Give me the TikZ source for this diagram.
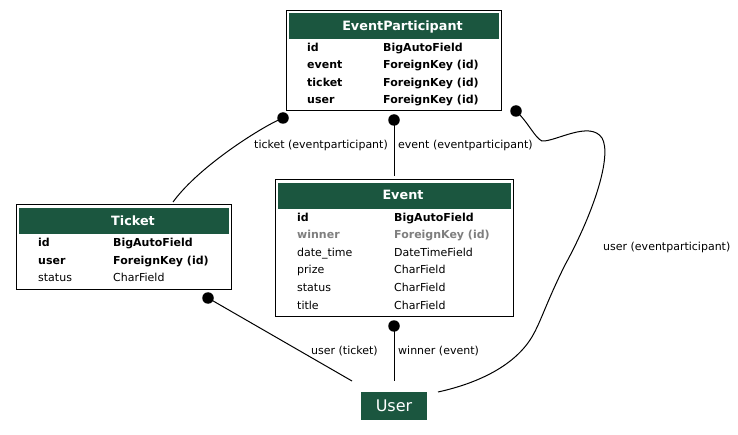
\documentclass[tikz,border=0pt]{standalone}
\usepackage{fontspec}
\setmainfont{DejaVu Sans}
\definecolor{hdr}{HTML}{1B563F}
\definecolor{fkgray}{HTML}{7F7F7F}
\tikzset{
  tbl/.style={draw=black, line width=1pt, fill=white, inner sep=0pt},
  hdrbox/.style={fill=hdr, draw=none, inner sep=0pt},
  hdrtext/.style={text=white, inner sep=0pt, anchor=base, font=\fontsize{12.8}{14}\selectfont\bfseries},
  fld/.style={inner sep=0pt, anchor=base west, font=\fontsize{11}{13}\selectfont},
  bfld/.style={fld, font=\fontsize{11}{13}\selectfont\bfseries},
  gfld/.style={bfld, text=fkgray},
  lbl/.style={inner sep=0pt, anchor=base west, font=\fontsize{11}{13}\selectfont},
  usernode/.style={fill=hdr, text=white, inner sep=0pt, minimum width=66pt, minimum height=28pt, font=\fontsize{16}{18}\selectfont},
  dotnode/.style={circle, fill=black, inner sep=0pt, minimum size=11.5pt},
  conn/.style={draw=black, line width=1pt},
}
\begin{document}
\begin{tikzpicture}[x=1pt,y=-1pt]
\useasboundingbox (0,0) rectangle (738,435);
% EventParticipant
\node[tbl, minimum width=215pt, minimum height=100pt] (ep) at (393.5,60.5) {};
\node[hdrbox, minimum width=210pt, minimum height=25.5pt] (ephdr) at (393.5,26) {};
\node[hdrtext] (eptitle) at (402.5,30.5) {EventParticipant};
\node[bfld] (ep1a) at (307,51.5) {id};
\node[bfld] (ep1b) at (383,51.5) {BigAutoField};
\node[bfld] (ep2a) at (307,69) {event};
\node[bfld] (ep2b) at (383,69) {ForeignKey (id)};
\node[bfld] (ep3a) at (307,86.5) {ticket};
\node[bfld] (ep3b) at (383,86.5) {ForeignKey (id)};
\node[bfld] (ep4a) at (307,104) {user};
\node[bfld] (ep4b) at (383,104) {ForeignKey (id)};
% Ticket
\node[tbl, minimum width=215pt, minimum height=85pt] (ticket) at (123.5,247.5) {};
\node[hdrbox, minimum width=210pt, minimum height=26pt] (thdr) at (123.5,221.5) {};
\node[hdrtext] (ttitle) at (133,226) {Ticket};
\node[bfld] (t1a) at (38,247) {id};
\node[bfld] (t1b) at (113,247) {BigAutoField};
\node[bfld] (t2a) at (38,264.5) {user};
\node[bfld] (t2b) at (113,264.5) {ForeignKey (id)};
\node[fld] (t3a) at (38,282) {status};
\node[fld] (t3b) at (113,282) {CharField};
% Event
\node[tbl, minimum width=238pt, minimum height=136pt] (event) at (394,248) {};
\node[hdrbox, minimum width=233pt, minimum height=26pt] (ehdr) at (394,196.5) {};
\node[hdrtext] (etitle) at (403,199.5) {Event};
\node[bfld] (e1a) at (297,221.5) {id};
\node[gfld] (e2a) at (297,239) {winner};
\node[bfld] (e1b) at (394,221.5) {BigAutoField};
\node[gfld] (e2b) at (394,239) {ForeignKey (id)};
\node[fld] (e3a) at (297,256.5) {date\_time};
\node[fld] (e3b) at (394,256.5) {DateTimeField};
\node[fld] (e4a) at (297,274) {prize};
\node[fld] (e4b) at (394,274) {CharField};
\node[fld] (e5a) at (297,291.5) {status};
\node[fld] (e5b) at (394,291.5) {CharField};
\node[fld] (e6a) at (297,309) {title};
\node[fld] (e6b) at (394,309) {CharField};
% User
\node[usernode] (user) at (394,406) {User};
% end points
\node[dotnode] (d1) at (283,118) {};
\node[dotnode] (d2) at (394,120) {};
\node[dotnode] (d3) at (516,111) {};
\node[dotnode] (d4) at (208,298) {};
\node[dotnode] (d5) at (394,326) {};
\coordinate (c1) at (173,202);
\coordinate (c2) at (394,176);
\coordinate (c3) at (438,392);
\coordinate (c4) at (352,381);
\coordinate (c5) at (394,381);
% connectors
\draw[conn] (d1.center) .. controls (265,125) and (200,165) .. (c1);
\draw[conn] (d2.center) -- (c2);
\draw[conn] (d3.center) .. controls (528,122) and (535,138) .. (542,141)
  .. controls (555,142) and (590,120) .. (602,138)
  .. controls (612,155) and (595,210) .. (565,265)
  .. controls (545,305) and (540,325) .. (530,340)
  .. controls (510,370) and (470,385) .. (c3);
\draw[conn] (d4.center) -- (c4);
\draw[conn] (d5.center) -- (c5);
% labels
\node[lbl] (l1) at (254,149) {ticket (eventparticipant)};
\node[lbl] (l2) at (398,149) {event (eventparticipant)};
\node[lbl] (l3) at (603,251) {user (eventparticipant)};
\node[lbl] (l4) at (311,354) {user (ticket)};
\node[lbl] (l5) at (398,354) {winner (event)};
\end{tikzpicture}
\end{document}
